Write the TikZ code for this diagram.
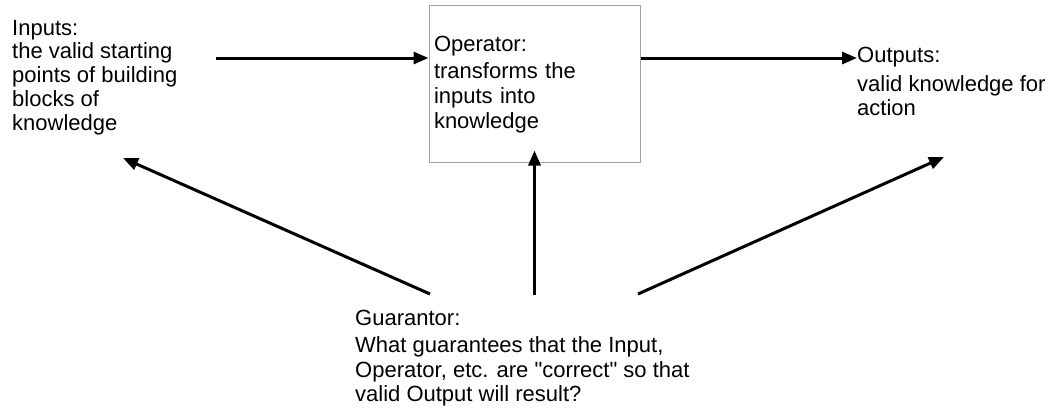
\documentclass[tikz,border=0pt]{standalone}
\usepackage{fontspec}
\setmainfont{Liberation Sans}[Ligatures=TeXOff]
\usetikzlibrary{arrows.meta}
\definecolor{boxgray}{HTML}{A0A0A0}
\begin{document}
\begin{tikzpicture}[x=1pt,y=-1pt,
  txt/.style={font=\fontsize{22}{24}\selectfont, align=left, inner sep=0pt, anchor=north west},
  opbox/.style={draw=boxgray, line width=1pt, minimum width=211pt, minimum height=157pt,
    text width=201pt, inner xsep=5pt, inner ysep=0pt, align=left,
    font=\fontsize{22}{25}\selectfont},
  conn/.style={line width=3pt, -{Triangle[length=15pt,width=12pt]}}]
\useasboundingbox (0,0) rectangle (1051,408);

% text blocks
\node[txt] (inp) at (12,18) {\rule{0pt}{17pt}Inputs:\\[-1pt]the valid starting\\points of building\\blocks of\\knowledge};
\node[opbox] (op) at (534.5,83.5) {\rule{0pt}{17pt}Operator:\\[2pt]transforms the\\inputs into\\knowledge};
\node[txt] (out) at (857,45) {\rule{0pt}{17pt}Outputs:\\[5pt]valid knowledge for\\action};
\node[txt] (gtr) at (355,308) {\rule{0pt}{17pt}Guarantor:\\[3pt]What guarantees that the Input,\\[1pt]Operator, etc. are "correct" so that\\valid Output will result?};

% horizontal flow
\coordinate (a1s) at (216,58);
\draw[conn] (a1s) -- (op.west |- a1s);
\draw[conn] (op.east |- a1s) -- (out.west |- a1s);

% guarantor arrows
\coordinate (g1) at (430,294);
\coordinate (t1) at (123,158);
\coordinate (gy) at (0,295);
\coordinate (g3) at (638,294);
\coordinate (t3) at (944,157);
\draw[conn] (g1) -- (t1);
\draw[conn] (op.south |- gy) -- ([yshift=12pt]op.south);
\draw[conn] (g3) -- (t3);
\end{tikzpicture}
\end{document}
